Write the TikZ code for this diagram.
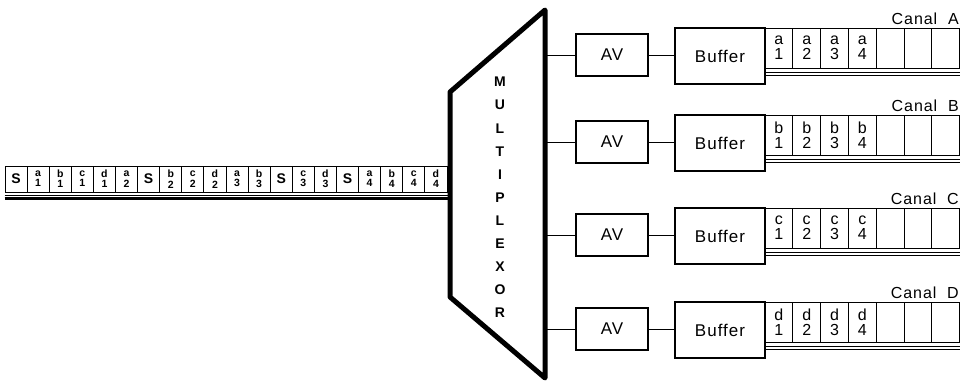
\documentclass[tikz,border=0pt]{standalone}
\usepackage{fontspec}
\setmainfont{Liberation Sans}
\newfontfamily\rotulo[LetterSpace=6]{Liberation Sans}
\usetikzlibrary{positioning}

% casilla del flujo de entrada: 0 = sincronismo
\newcommand{\hueco}[2]{\ifnum#2=0 {\fontsize{14}{14}\selectfont #1}\else\shortstack{#1\\#2}\fi}

\tikzset{
	caja/.style={draw, line width=1.1pt, inner sep=0pt, font=\rotulo\fontsize{17}{17}\selectfont},
	celda/.style={draw, line width=0.9pt, minimum width=27.7pt, minimum height=40pt, inner sep=0pt, align=center, font=\fontsize{16}{15}\selectfont},
	ranura/.style={draw, line width=1pt, minimum width=22.1pt, minimum height=26pt, inner sep=0pt, font=\bfseries\fontsize{10.5}{9}\selectfont},
	letra/.style={font=\bfseries\fontsize{14}{14}\selectfont},
	canal/.style={inner sep=1pt, font=\rotulo\fontsize{16}{16}\selectfont},
	enlace/.style={line width=1pt}
}

\begin{document}
\begin{tikzpicture}[x=1pt, y=-1pt]
	\useasboundingbox (0,0) rectangle (966,380);

	% Multiplexor
	\draw[line width=5pt, line join=round] (450,92) -- (545,10) -- (545,378) -- (450,297) -- cycle;
	\foreach \letra [count=\i] in {M,U,L,T,I,P,L,E,X,O,R}
		\node[letra] (mx\i) at (500,{82+(\i-1)*23.1}) {\letra};

	% Flujo de entrada
	\foreach \l/\n [count=\i] in {S/0,a/1,b/1,c/1,d/1,a/2,S/0,b/2,c/2,d/2,a/3,b/3,S/0,c/3,d/3,S/0,a/4,b/4,c/4,d/4}
		\node[ranura] (in\i) at ({5+(\i-0.5)*22.1},179) {\hueco{\l}{\n}};
	\coordinate (fin1) at (450,195);
	\coordinate (fin2) at (450,198.5);
	\draw[line width=0.8pt] (in1.south west |- fin1) -- (fin1);
	\draw[line width=2.5pt] (in1.south west |- fin2) -- (fin2);

	% Canales de salida
	\foreach \c/\l/\t in {A/a/28, B/b/115, C/c/208, D/d/302} {
		\coordinate (mux\c) at (545,\t+27);
		\node[caja, minimum width=72pt, minimum height=42pt] (av\c) at (612,\t+27) {AV};
		\node[caja, minimum width=90pt, minimum height=56pt] (buf\c) at (720,\t+28) {Buffer};
		\draw[enlace] (mux\c) -- (av\c);
		\draw[enlace] (av\c) -- (av\c -| buf\c.west);
		\foreach \k in {1,...,4}
			\node[celda] (\l\k) at ({765+(\k-0.5)*27.8},\t+20) {\l\\\k};
		\foreach \k in {5,6,7}
			\node[celda] (\l\k) at ({765+(\k-0.5)*27.8},\t+20) {};
		\draw[line width=0.8pt] ([yshift=-4pt]\l1.south west) -- ([yshift=-4pt]\l7.south east);
		\draw[line width=1.8pt] ([yshift=-7pt]\l1.south west) -- ([yshift=-7pt]\l7.south east);
		\node[canal, anchor=south east] (canal\c) at ([yshift=2pt]\l7.north east) {Canal\ \ \c};
	}
\end{tikzpicture}
\end{document}
